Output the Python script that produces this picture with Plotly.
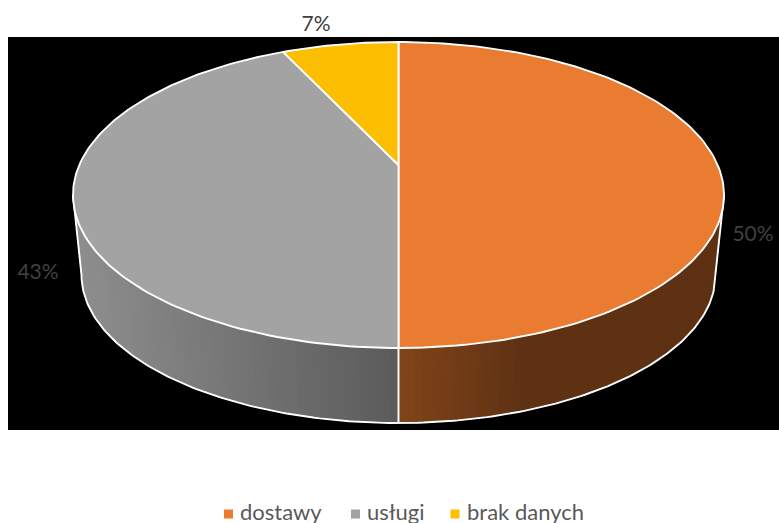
import math
import plotly.graph_objects as go

# Data
categories = ["dostawy", "usługi", "brak danych"]
values = [50, 43, 7]
value_labels = ["50%", "43%", "7%"]
colors = ["#EA7C31", "#A3A3A3", "#FBBE00"]

W, H = 779, 523
CX, APEX_Y = 398.5, 165.0          # pie centre as projected
TOP_Y, BOTTOM_Y = 42.0, 348.0      # top face extent
RX, RY, EY = 325.5, 153.0, 195.0   # top face as an ellipse
RX2, RY2, EY2 = 317.0, 148.0, 275.0  # lower rim ellipse
LW = 1.9

# Perspective: unit circle (u, v) -> picture
c = ((APEX_Y * 2) - (TOP_Y + BOTTOM_Y)) / (TOP_Y - BOTTOM_Y)
a = TOP_Y * (1 + c) - APEX_Y
k = RX * math.sqrt(1 - c * c)


def project(frac):
    ang = 2 * math.pi * frac
    u, v = math.sin(ang), math.cos(ang)
    w = 1 + c * v
    return CX + k * u / w, (a * v + APEX_Y) / w


def mix(c1, c2, t):
    t = max(0.0, min(1.0, t))
    return "rgb(%d,%d,%d)" % tuple(round(p + (q - p) * t) for p, q in zip(c1, c2))


fig = go.Figure()
total = sum(values)
fracs = [v / total for v in values]

# Front wall: the first slice ends at split; strips run across the visible half
split = fracs[0]
N = 64


def wall_strip(t0, t1, color):
    n = 24
    ts = [t0 + (t1 - t0) * i / n for i in range(n + 1)]
    xs = [CX + RX * math.cos(t) for t in ts] + [CX + RX2 * math.cos(t) for t in reversed(ts)]
    ys = [EY + RY * math.sin(t) for t in ts] + [EY2 + RY2 * math.sin(t) for t in reversed(ts)]
    fig.add_trace(go.Scatter(x=xs, y=ys, mode="lines", fill="toself", fillcolor=color,
                             line=dict(width=0), hoverinfo="skip", showlegend=False))


mid = math.pi * (2 * split - 0.5)  # image angle of the slice boundary (bottom)
for i in range(N):  # orange wall, right to boundary, dark to light
    t0 = mid * i / N
    x = CX + RX2 * math.cos(t0)
    wall_strip(t0, mid, mix((0x82, 0x45, 0x1A), (0x5E, 0x31, 0x13), (x - CX) / 130))
for i in range(N):  # grey wall, left to boundary, light to dark
    t0 = math.pi - (math.pi - mid) * i / N
    x = CX + RX2 * math.cos(t0)
    wall_strip(t0, mid, mix((0x5A, 0x5A, 0x5A), (0x8E, 0x8E, 0x8E), (CX - x) / 317))

# Rim outline of the wall
ts = [math.pi * i / 200 for i in range(201)]
rim_x = [CX + RX] + [CX + RX2 * math.cos(t) for t in ts] + [CX - RX]
rim_y = [EY] + [EY2 + RY2 * math.sin(t) for t in ts] + [EY]
fig.add_trace(go.Scatter(x=rim_x, y=rim_y, mode="lines", line=dict(color="white", width=LW),
                         hoverinfo="skip", showlegend=False))
fig.add_trace(go.Scatter(x=[CX, CX], y=[BOTTOM_Y, EY2 + RY2], mode="lines",
                         line=dict(color="white", width=LW), hoverinfo="skip", showlegend=False))

# Top face slices
start = 0.0
for name, f, col in zip(categories, fracs, colors):
    n = max(8, int(f * 300))
    pts = [project(start + f * i / n) for i in range(n + 1)]
    xs = [CX] + [p[0] for p in pts] + [CX]
    ys = [APEX_Y] + [p[1] for p in pts] + [APEX_Y]
    fig.add_trace(go.Scatter(x=xs, y=ys, mode="lines", fill="toself", fillcolor=col, name=name,
                             line=dict(color="white", width=LW), hoverinfo="name", showlegend=False))
    start += f

# Value labels
label_x = [753, 38, 316]
label_y = [236, 274, 26]
fig.add_trace(go.Scatter(x=label_x, y=label_y, mode="text", text=value_labels,
                         textfont=dict(family="Lato", size=21, color="#404040"),
                         textposition="middle center", hoverinfo="skip", showlegend=False))

# Legend row
marker_x = [228.5, 355.5, 455]
text_x = [240, 367, 467]
fig.add_trace(go.Scatter(x=marker_x, y=[514] * 3, mode="markers",
                         marker=dict(symbol="square", size=9, color=colors),
                         hoverinfo="skip", showlegend=False))
fig.add_trace(go.Scatter(x=text_x, y=[514] * 3, mode="text", text=categories,
                         textposition="middle right",
                         textfont=dict(family="Lato", size=22, color="#595959"),
                         hoverinfo="skip", showlegend=False))

fig.update_layout(
    width=W, height=H, margin=dict(l=0, r=0, t=0, b=0),
    paper_bgcolor="white", plot_bgcolor="white", showlegend=False,
    xaxis=dict(range=[0, W], visible=False, fixedrange=True),
    yaxis=dict(range=[H, 0], visible=False, fixedrange=True),
    shapes=[dict(type="rect", xref="x", yref="y", x0=8, x1=W, y0=37, y1=430,
                 fillcolor="black", line=dict(width=0), layer="below")],
)
fig.write_html("out.html", config={"displayModeBar": False},
               post_script="document.body.style.margin='0';document.documentElement.style.overflow='hidden';")
